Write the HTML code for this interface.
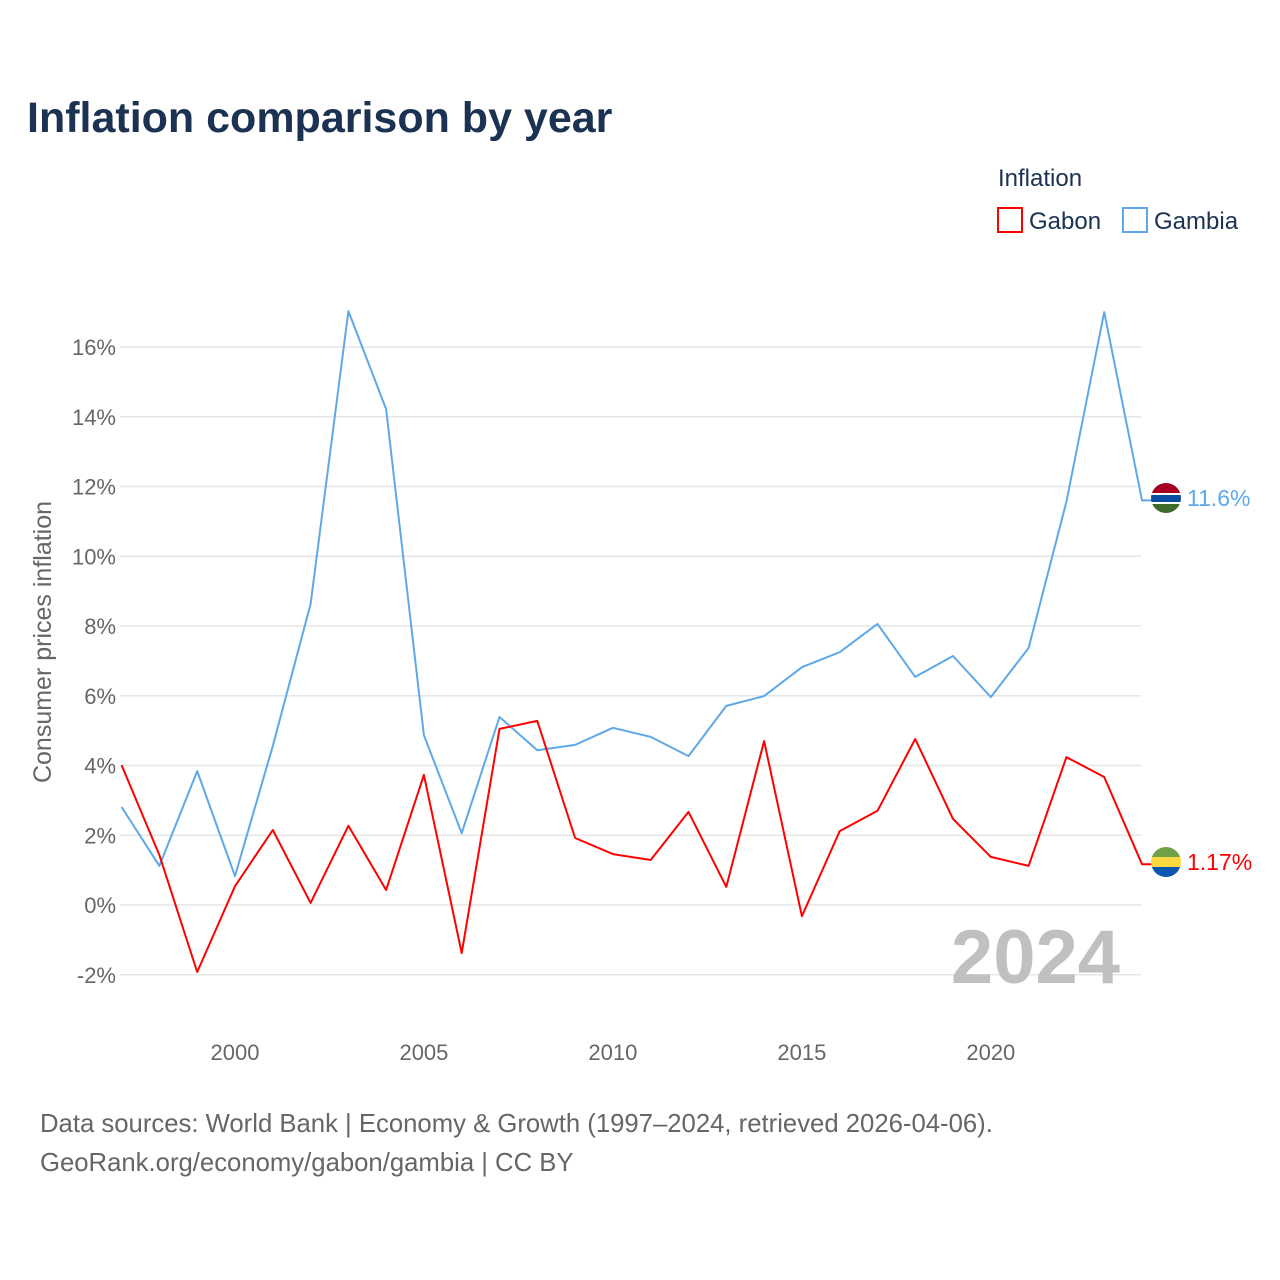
<!DOCTYPE html>
<html><head><meta charset="utf-8">
<style>
body{margin:0;background:#fff;}
svg{display:block;font-family:"Liberation Sans",sans-serif;}
</style></head>
<body>
<svg id="chart" width="1280" height="1280" viewBox="0 0 1280 1280">
<text x="27" y="132" font-size="43" font-weight="bold" fill="#1b3252">Inflation comparison by year</text>
<g>
<text x="998" y="186" font-size="24" fill="#1b3252">Inflation</text>
<g>
<rect x="998" y="208" width="24" height="24" fill="none" stroke="#ff0000" stroke-width="2"/>
<text x="1029" y="229" font-size="24" fill="#1b3252">Gabon</text></g>
<g>
<rect x="1123" y="208" width="24" height="24" fill="none" stroke="#5fa8e8" stroke-width="2"/>
<text x="1154" y="229" font-size="24" fill="#1b3252">Gambia</text></g>
</g>
<g id="grid"></g>
<g id="yticks"></g>
<g id="xticks"></g>
<text transform="translate(51,642) rotate(-90)" text-anchor="middle" font-size="25" fill="#666">Consumer prices inflation</text>
<text x="1120" y="983" text-anchor="end" font-size="76" font-weight="bold" fill="#c0c0c0">2024</text>
<g id="series"></g>
<g>
<clipPath id="c1"><circle cx="1166" cy="498" r="15"/></clipPath>
<g clip-path="url(#c1)"><rect x="1150" y="482" width="32" height="11" fill="#a50021"/><rect x="1150" y="493" width="32" height="2" fill="#fff"/><rect x="1150" y="495" width="32" height="7" fill="#0a4da3"/><rect x="1150" y="502" width="32" height="2" fill="#fff"/><rect x="1150" y="504" width="32" height="12" fill="#3d6b2a"/></g></g>
<g>
<clipPath id="c2"><circle cx="1166" cy="862" r="15"/></clipPath>
<g clip-path="url(#c2)"><rect x="1150" y="846" width="32" height="11" fill="#6ea046"/><rect x="1150" y="857" width="32" height="10" fill="#fcd840"/><rect x="1150" y="867" width="32" height="12" fill="#0a56b0"/></g></g>
<text x="1187" y="506" font-size="23" fill="#5fa8e8">11.6%</text>
<text x="1187" y="870" font-size="23" fill="#ff0000">1.17%</text>
<text x="40" y="1132" font-size="25.7" fill="#666">Data sources: World Bank | Economy &amp; Growth (1997–2024, retrieved 2026-04-06).</text>
<text x="40" y="1171" font-size="25.7" fill="#666">GeoRank.org/economy/gabon/gambia | CC BY</text>
</svg>
<script>
const years=[1997,1998,1999,2000,2001,2002,2003,2004,2005,2006,2007,2008,2009,2010,2011,2012,2013,2014,2015,2016,2017,2018,2019,2020,2021,2022,2023,2024];
const gabon=[4.01,1.43,-1.92,0.54,2.15,0.06,2.27,0.43,3.73,-1.38,5.05,5.28,1.92,1.46,1.29,2.67,0.52,4.70,-0.32,2.12,2.70,4.76,2.47,1.38,1.12,4.24,3.67,1.17];
const gambia=[2.81,1.12,3.84,0.83,4.56,8.63,17.03,14.22,4.87,2.06,5.39,4.44,4.59,5.08,4.82,4.27,5.71,5.99,6.82,7.25,8.06,6.54,7.14,5.96,7.37,11.56,17.0,11.6];
const yTicks=[-2,0,2,4,6,8,10,12,14,16];
const xTicks=[2000,2005,2010,2015,2020];
const NS="http://www.w3.org/2000/svg";
const x=v=>121.6+(v-1997)*(1142-121.6)/27;
const y=v=>905-v*34.875;
function mk(t,a,p){const e=document.createElementNS(NS,t);for(const k in a)e.setAttribute(k,a[k]);p.appendChild(e);return e;}
const grid=document.getElementById('grid'),yt=document.getElementById('yticks'),xt=document.getElementById('xticks'),ser=document.getElementById('series');
yTicks.forEach(v=>{
 const l=mk('line',{x1:120,x2:1141,y1:y(v),y2:y(v),stroke:'#e6e6e6','stroke-width':1.5},grid);
 
 
 const t=mk('text',{x:116,y:y(v)+8,'text-anchor':'end','font-size':22,fill:'#666'},yt);
 t.textContent=v+'%';
 
 
});
xTicks.forEach(v=>{
 const t=mk('text',{x:x(v),y:1060,'text-anchor':'middle','font-size':22,fill:'#666'},xt);
 t.textContent=v;
 
 
});
function line(data,color,name){
 let d=data.map((v,i)=>(i?'L':'M')+x(years[i]).toFixed(1)+','+y(v).toFixed(1)).join(' ');
 d+=' L1152,'+y(data[data.length-1]).toFixed(1);
 const p=mk('path',{d:d,fill:'none',stroke:color,'stroke-width':2,'stroke-linejoin':'round'},ser);
 
 
}
line(gambia,'#5fa8e8','gambia-line');
line(gabon,'#ff0000','gabon-line');
</script>
</body></html>
